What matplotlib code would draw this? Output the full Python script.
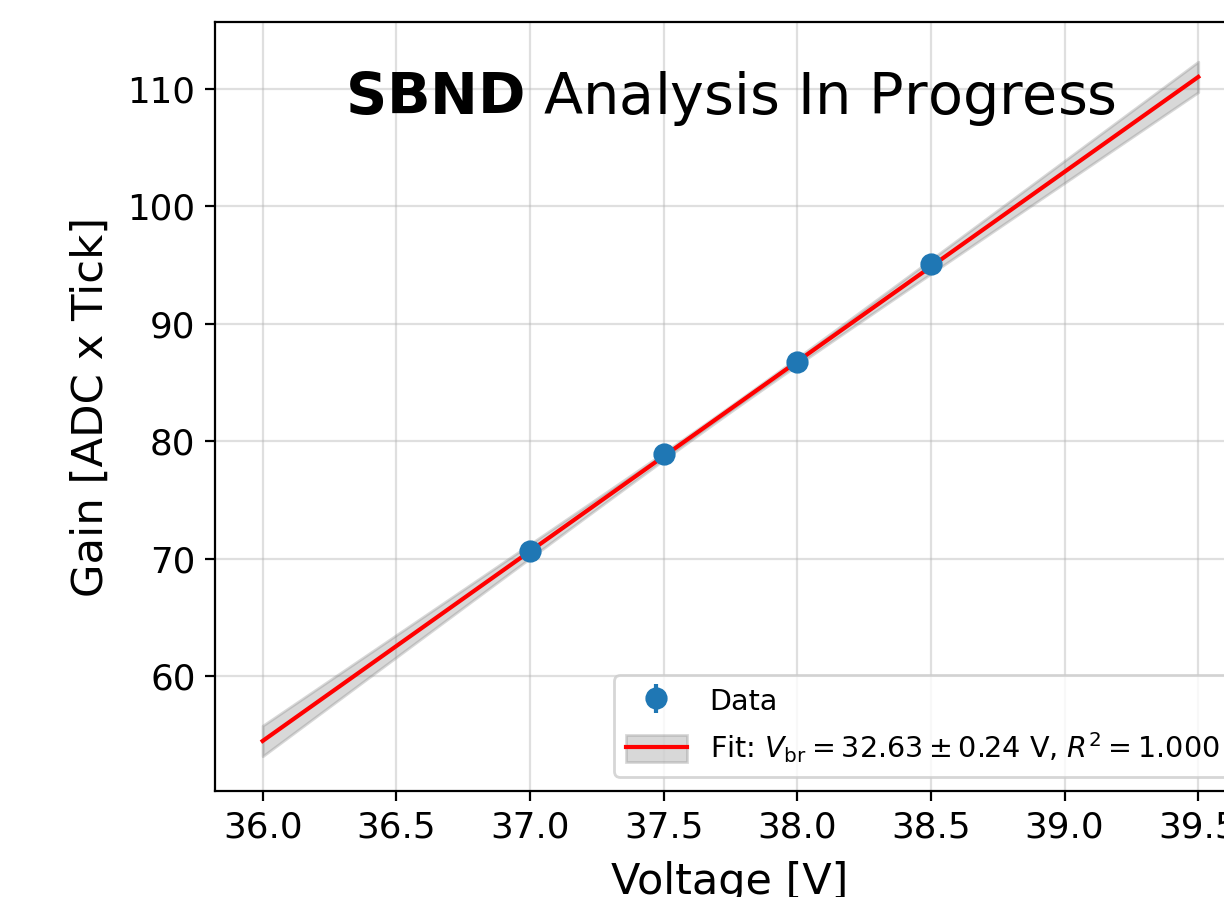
import numpy as np
import matplotlib
matplotlib.use("Agg")
import matplotlib.pyplot as plt

# measured points
voltage = [37.0, 37.5, 38.0, 38.5]
gain = [70.6, 78.9, 86.75, 95.1]
gain_err = [0.3, 0.3, 0.3, 0.8]

# fit result (gain = slope * V + intercept)
slope = 16.16
intercept = -527.3
sig_center = 0.25     # band half-width at the mean voltage
sig_slope = 0.73      # growth of band away from the mean
v_mean = 37.75
v_br = 32.63
v_br_err = 0.24
r2 = 1.000

fig = plt.figure(figsize=(6.12, 4.485), dpi=200)
ax = fig.add_axes([0.1757, 0.1182, 0.8415, 0.8573])

vv = np.linspace(36.0, 39.5, 200)
fit = slope * vv + intercept
band = np.sqrt(sig_center**2 + (sig_slope * (vv - v_mean))**2)

eb = ax.errorbar(voltage, gain, yerr=gain_err, fmt='o', color='#1f77b4',
                 markersize=7, label='Data', zorder=4)
fb = ax.fill_between(vv, fit - band, fit + band, color='gray', alpha=0.3, zorder=2)
ln, = ax.plot(vv, fit, color='red', lw=1.5, zorder=3)

ax.set_xlim(35.822, 39.675)
ax.set_ylim(50.2, 115.7)
ax.set_xticks(np.arange(36.0, 39.6, 0.5))
ax.set_yticks([60, 70, 80, 90, 100, 110])
ax.tick_params(labelsize=12.9)
ax.grid(True, alpha=0.4)
ax.set_axisbelow(True)

ax.set_xlabel('Voltage [V]', fontsize=15.5, labelpad=5.8)
ax.set_ylabel('Gain [ADC x Tick]', fontsize=15.6, labelpad=5.6)

ax.text(0.5, 0.9, r'$\bf{SBND}$ Analysis In Progress', transform=ax.transAxes,
        ha='center', va='center', fontsize=20.6)

fit_label = (r'Fit: $V_{\rm br} = %.2f \pm %.2f$ V, $R^2 = %.3f$'
             % (v_br, v_br_err, r2))
ax.legend([eb, (fb, ln)], ['Data', fit_label], loc='lower right',
          fontsize=10.3, handlelength=2.13, handleheight=1.1)

fig.savefig('out.png', dpi=200)
